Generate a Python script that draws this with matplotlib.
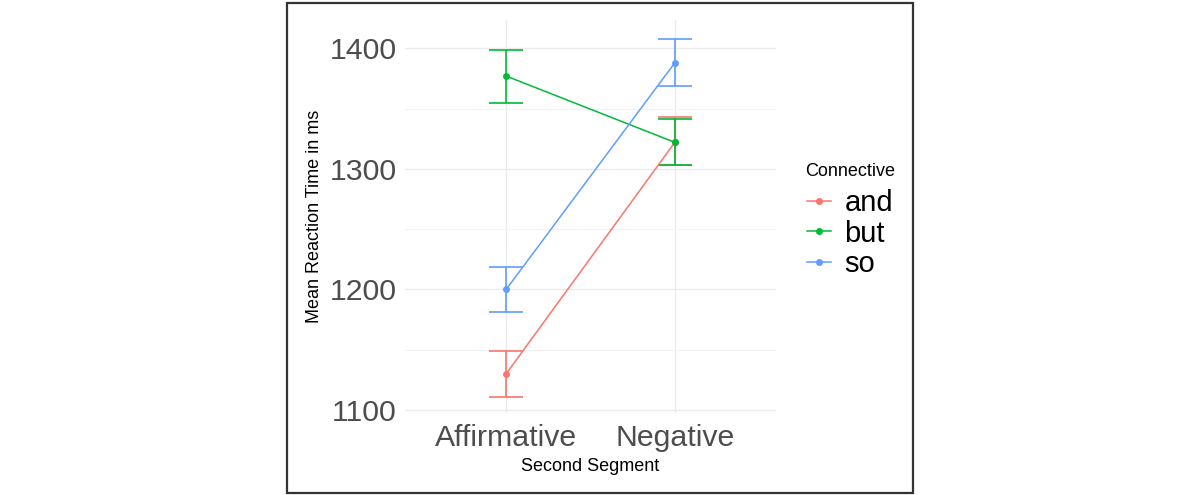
import numpy as np
import matplotlib
matplotlib.use("Agg")
import matplotlib.pyplot as plt
from matplotlib.patches import Rectangle
from matplotlib.lines import Line2D

plt.rcParams['font.family'] = ['Liberation Sans', 'DejaVu Sans']

# values
segments = ["Affirmative", "Negative"]
connectives = ["and", "but", "so"]
means = {
    "and": [1130, 1322],
    "but": [1377, 1322],
    "so": [1200, 1388],
}
lower = {
    "and": [1111, 1303],
    "but": [1355, 1303],
    "so": [1181, 1369],
}
upper = {
    "and": [1149, 1343],
    "but": [1399, 1341],
    "so": [1219, 1408],
}
colors = {"and": "#F8766D", "but": "#00BA38", "so": "#619CFF"}
y_ticks = [1100, 1200, 1300, 1400]
y_minor = [1150, 1250, 1350]

W, H = 1200, 495
fig = plt.figure(figsize=(W / 100, H / 100), dpi=100)
ax = fig.add_axes([405 / W, 1 - 413 / H, 371 / W, 393 / H])

# outer frame round the plot
fig.patches.append(Rectangle((287 / W, 1 - 493 / H), 626 / W, 490 / H,
                             transform=fig.transFigure, fill=False,
                             edgecolor="#333333", linewidth=1.6))

x = np.arange(1, len(segments) + 1)
cap = 0.1
for c in connectives:
    col = colors[c]
    ax.vlines(x, lower[c], upper[c], color=col, linewidth=1.2, zorder=3)
    ax.hlines(lower[c], x - cap, x + cap, color=col, linewidth=1.2, zorder=3)
    ax.hlines(upper[c], x - cap, x + cap, color=col, linewidth=1.2, zorder=3)
for c in connectives:
    ax.plot(x, means[c], color=colors[c], linewidth=1.1, marker="o",
            markersize=4, zorder=4)

ax.set_xlim(0.4, 2.6)
ax.set_ylim(1097.5, 1423.5)
ax.set_xticks(x)
ax.set_xticklabels(segments)
ax.set_yticks(y_ticks)
ax.set_yticks(y_minor, minor=True)
ax.tick_params(axis="both", which="both", length=0, labelsize=21.8,
               labelcolor="#4D4D4D")
ax.tick_params(axis="x", pad=8)
ax.tick_params(axis="y", pad=6)
ax.grid(True, which="major", color="#EBEBEB", linewidth=1.0)
ax.grid(True, which="minor", axis="y", color="#F2F2F2", linewidth=0.8)
ax.set_axisbelow(True)
for s in ax.spines.values():
    s.set_visible(False)

ax.set_xlabel("Second Segment", fontsize=13, labelpad=4)
ax.set_ylabel("Mean Reaction Time in ms", fontsize=13, labelpad=5)

# legend: title placed on its own to get the wider gap above the keys
fig.text(805 / W, 1 - 171 / H, "Connective", fontsize=13, ha="left",
         va="center")
handles = [Line2D([0], [0], color=colors[c], linewidth=1.1, marker="o",
                  markersize=4) for c in connectives]
leg = ax.legend(handles, connectives, frameon=False,
                loc="upper left", bbox_to_anchor=(807 / W, 1 - 189 / H),
                bbox_transform=fig.transFigure, fontsize=21,
                handlelength=0.83, handletextpad=0.45,
                labelspacing=0.09, borderaxespad=0, borderpad=0)

fig.savefig("out.png", dpi=100)
